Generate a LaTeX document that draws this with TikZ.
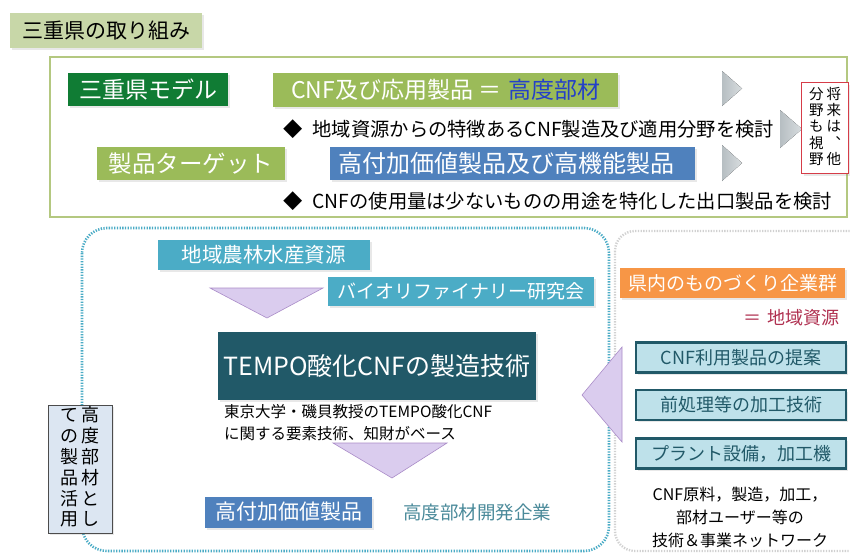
\documentclass[tikz,border=0pt]{standalone}
\usepackage{fontspec}
\setmainfont{Noto Sans CJK JP}
\usetikzlibrary{shadows}
\definecolor{titlebg}{RGB}{200,215,168}
\definecolor{olivebd}{RGB}{180,200,128}
\definecolor{dgreen}{RGB}{16,124,52}
\definecolor{lgreen}{RGB}{155,187,89}
\definecolor{mblue}{RGB}{79,129,189}
\definecolor{tblue}{RGB}{36,64,200}
\definecolor{teal1}{RGB}{75,172,198}
\definecolor{dteal}{RGB}{33,89,104}
\definecolor{lcyan}{RGB}{190,225,234}
\definecolor{orng}{RGB}{247,150,70}
\definecolor{lavfill}{RGB}{218,204,238}
\definecolor{lavbd}{RGB}{170,140,200}
\definecolor{arrgray}{RGB}{190,198,202}
\definecolor{redbd}{RGB}{214,60,72}
\definecolor{redtx}{RGB}{176,48,80}
\definecolor{devtx}{RGB}{74,138,154}
\definecolor{vbox}{RGB}{220,230,242}
\newcommand\fsz[1]{\fontsize{#1}{#1}\selectfont}
\begin{document}
\begin{tikzpicture}[x=1pt,y=-1pt,
  boxbase/.style={inner sep=0pt, outer sep=0pt, align=center,
    drop shadow={opacity=0.18, shadow xshift=2pt, shadow yshift=-2pt}},
  fillbox/.style={boxbase, text=white},
  lavtri/.style={fill=lavfill, draw=lavbd, line width=0.6pt},
  graytri/.style={left color=arrgray!80!black!20!arrgray, right color=arrgray!60, draw=none},
  cyanbox/.style={boxbase, fill=lcyan, draw=dteal, line width=2.5pt, text=dteal,
    minimum width=210pt, minimum height=30pt, font=\fsz{18}},
  bullet/.style={anchor=west, inner sep=0pt, font=\fsz{19.3}}
]
\useasboundingbox (0,0) rectangle (850,554);
\fill[white] (0,0) rectangle (850,554);

% ---------- top section ----------
\node[boxbase, fill=titlebg, minimum width=192pt, minimum height=35pt, font=\fsz{21}]
  (title) at (106,30.5) {三重県の取り組み};

\draw[olivebd, line width=1.8pt, fill=white] (50,57) rectangle (847,217);

\node[fillbox, fill=dgreen, minimum width=160pt, minimum height=33pt, font=\fsz{23}]
  (model) at (148,89.5) {三重県モデル};
\node[fillbox, fill=lgreen, minimum width=345pt, minimum height=34pt, font=\fsz{23}]
  (cnf) at (445.5,90) {CNF及び応用製品\hspace{6pt}＝\hspace{6pt}{\color{tblue}高度部材}};
\node[bullet] (b1) at (283,129) {◆\hspace{10pt}地域資源からの特徴あるCNF製造及び適用分野を検討};
\node[fillbox, fill=lgreen, minimum width=188pt, minimum height=33pt, font=\fsz{23.5}]
  (target) at (191,163.5) {製品ターゲット};
\node[fillbox, fill=mblue, minimum width=365pt, minimum height=33pt, font=\fsz{24}]
  (high) at (512.5,163.5) {高付加価値製品及び高機能製品\hspace{12pt}};
\node[bullet] (b2) at (283,201) {◆\hspace{10pt}CNFの使用量は少ないものの用途を特化した出口製品を検討};

% gray arrows
\fill[graytri] (722,71) -- (742,88.5) -- (722,106) -- cycle;
\fill[graytri] (780,110) -- (802,129) -- (780,148) -- cycle;
\fill[graytri] (722,145) -- (742,163) -- (722,181) -- cycle;

% future box
\node[boxbase, fill=white, draw=redbd, line width=1.2pt, minimum width=47pt, minimum height=91pt,
  font=\fontsize{14.5}{14.5}\selectfont] (future) at (825,128)
  {\begin{tabular}{@{}c@{\hspace{3pt}}c@{}}分&将\\野&来\\も&は\\視&︑\\野&他\end{tabular}};

% ---------- lower left region ----------
\draw[teal1, line width=2.6pt, dash pattern=on 1.3pt off 1.4pt, rounded corners=25pt]
  (82,228) rectangle (609,551);
\draw[black!18, line width=2.4pt, dash pattern=on 1.3pt off 1.4pt, rounded corners=20pt]
  (615,231) rectangle (870,551);

\node[fillbox, fill=teal1, minimum width=212pt, minimum height=30pt, font=\fsz{20.5}]
  (res) at (263.5,255) {地域農林水産資源};
\node[fillbox, fill=teal1, minimum width=266pt, minimum height=29pt, font=\fsz{19}]
  (bio) at (461,291) {バイオリファイナリー研究会};
\fill[lavtri] (210,288) -- (323,288) -- (267,318) -- cycle;

\node[fillbox, fill=dteal, minimum width=318pt, minimum height=68pt, font=\fsz{25}]
  (tempo) at (377,366) {TEMPO酸化CNFの製造技術};
\node[anchor=west, inner sep=0pt, align=left, font=\fontsize{15.5}{22}\selectfont]
  (desc) at (224,423) {東京大学・磯貝教授のTEMPO酸化CNF\\に関する要素技術、知財がベース};
\fill[lavtri] (333,443) -- (447,443) -- (392,478) -- cycle;

\node[fillbox, fill=mblue, minimum width=167pt, minimum height=31pt, font=\fsz{21}]
  (prod) at (288.5,512) {高付加価値製品};
\node[inner sep=0pt, text=devtx, font=\fsz{18.5}] (dev) at (477,512) {高度部材開発企業};

\node[boxbase, fill=vbox, draw=black!70, line width=0.8pt, minimum width=64pt, minimum height=128pt,
  font=\fontsize{18}{19.3}\selectfont] (use) at (80,469)
  {\begin{tabular}{@{}c@{\hspace{3pt}}c@{}}て&高\\の&度\\製&部\\品&材\\活&と\\用&し\end{tabular}};

% big left triangle
\fill[lavtri] (582,395) -- (622,347) -- (622,442) -- cycle;

% ---------- right region ----------
\node[fillbox, fill=orng, minimum width=225pt, minimum height=30pt, font=\fsz{19}]
  (maker) at (732.5,283) {県内のものづくり企業群};
\node[anchor=east, inner sep=0pt, text=redtx, font=\fsz{18}] (eq) at (840,318) {＝\hspace{6pt}地域資源};

\node[cyanbox] (c1) at (741,357.5) {CNF利用製品の提案};
\node[cyanbox] (c2) at (741,405) {前処理等の加工技術};
\node[cyanbox] (c3) at (741,453.5) {プラント設備，加工機};

\node[inner sep=0pt, align=center, font=\fontsize{16}{23}\selectfont] (net) at (740,517)
  {CNF原料，製造，加工，\\部材ユーザー等の\\技術＆事業ネットワーク};
\end{tikzpicture}
\end{document}
